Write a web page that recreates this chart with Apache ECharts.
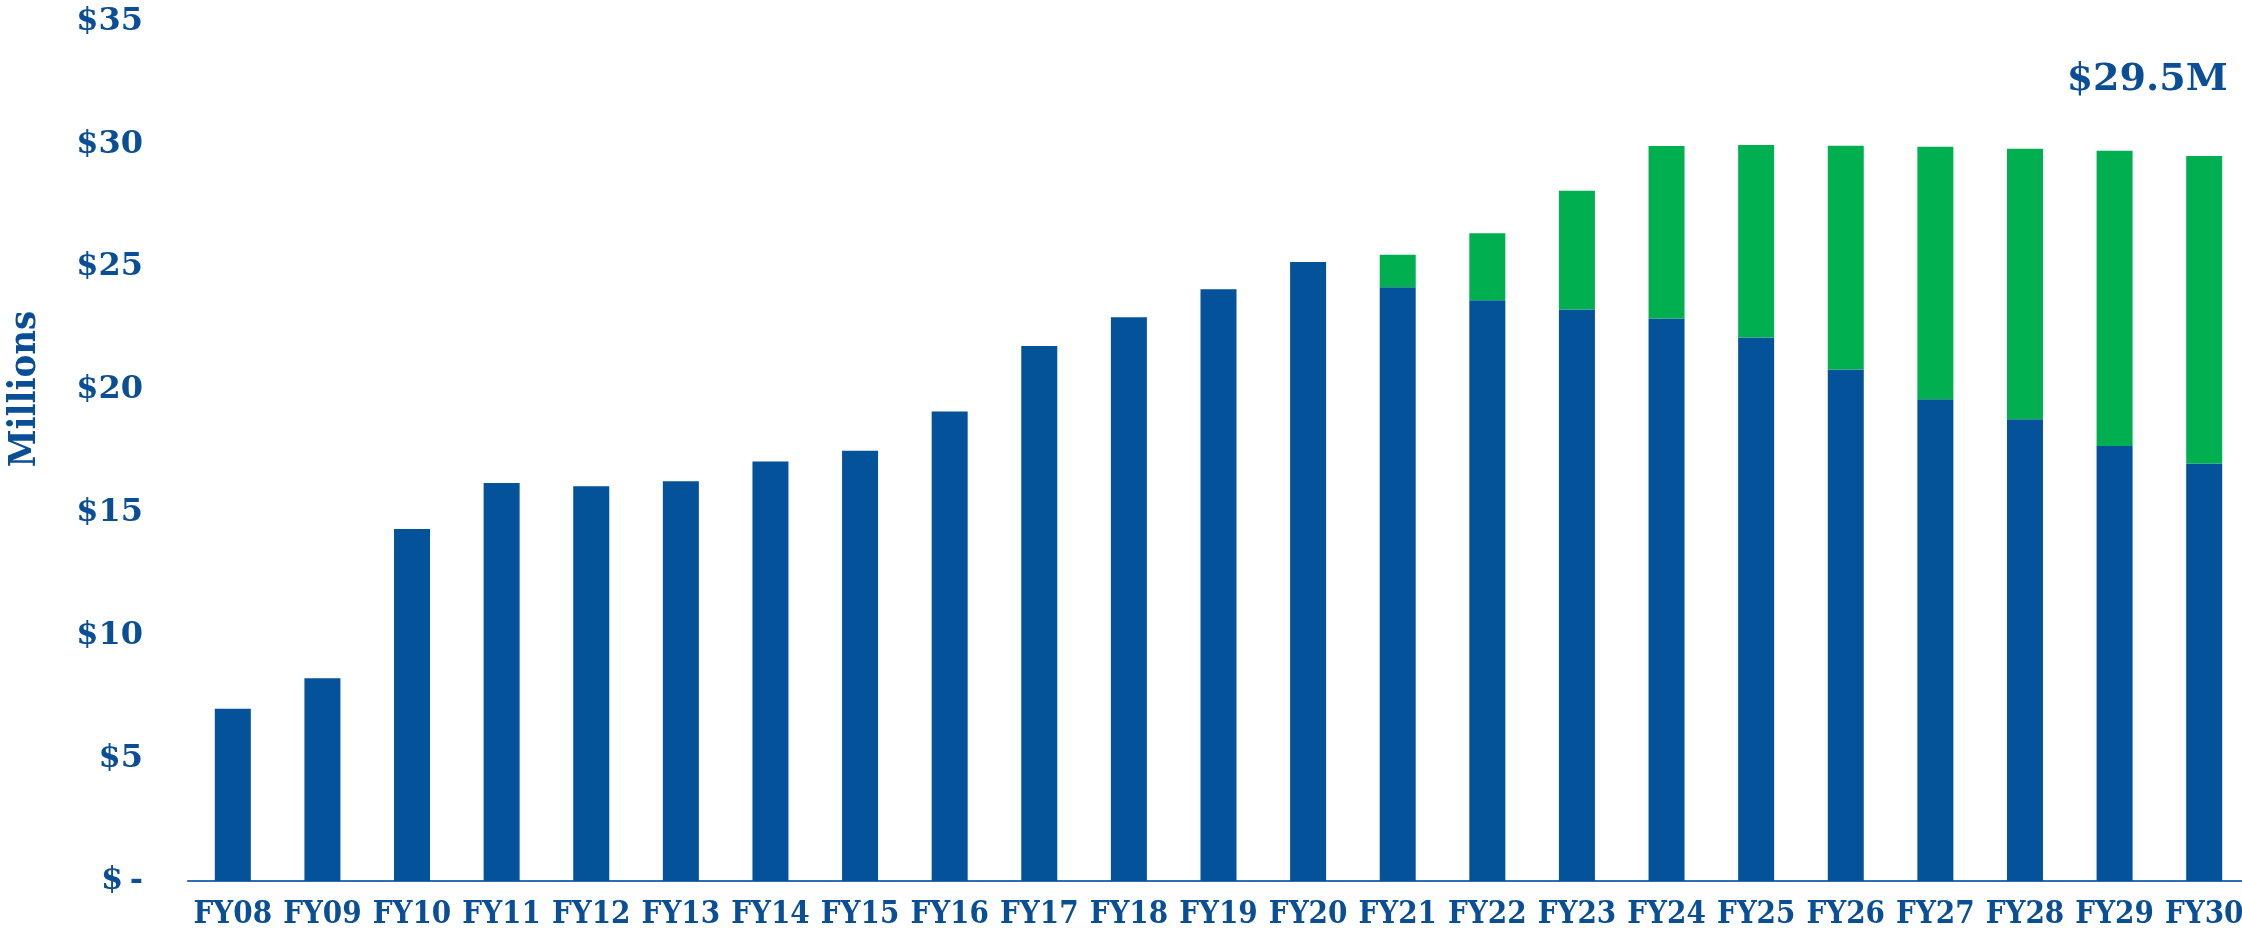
<!DOCTYPE html>
<html>
<head>
<meta charset="utf-8">
<script src="https://cdn.jsdelivr.net/npm/echarts@6/dist/echarts.min.js"></script>
<style>
html,body{margin:0;padding:0;background:#fff;overflow:hidden;width:2242px;height:930px;}
#chart{width:2250px;height:930px;}
</style>
</head>
<body>
<div id="chart"></div>
<script>
const categories = ['FY08','FY09','FY10','FY11','FY12','FY13','FY14','FY15','FY16','FY17','FY18','FY19','FY20','FY21','FY22','FY23','FY24','FY25','FY26','FY27','FY28','FY29','FY30'];
const baseValues = [7.02,8.26,14.34,16.21,16.08,16.28,17.08,17.52,19.12,21.79,22.96,24.10,25.21,24.18,23.65,23.28,22.91,22.13,20.83,19.62,18.81,17.72,17.00];
const addedValues = [0,0,0,0,0,0,0,0,0,0,0,0,0,1.32,2.73,4.83,7.02,7.84,9.11,10.28,11.01,12.02,12.53];
const yTicks = [0,5,10,15,20,25,30,35];
const yTitle = 'Millions';

const BLUE = '#03529A';
const GREEN = '#00AF50';
const TEXT = '#0A4F96';

const lastIdx = categories.length - 1;
const finalTotal = baseValues[lastIdx] + addedValues[lastIdx];

const chart = echarts.init(document.getElementById('chart'), null, {renderer:'canvas'});
chart.setOption({
  animation:false,
  backgroundColor:'#ffffff',
  grid:{left:188, right:1, top:21.6, bottom:49, containLabel:false},
  graphic:[{
    type:'text',
    x:25,
    y:389,
    rotation:Math.PI/2,
    style:{
      text:yTitle,
      fill:TEXT,
      font:'bold 38px "DejaVu Serif Condensed"',
      textAlign:'center',
      textVerticalAlign:'middle'
    }
  }],
  xAxis:{
    type:'category',
    data:categories,
    axisLine:{show:true, lineStyle:{color:'#2F6DB0', width:2}},
    axisTick:{show:false},
    axisLabel:{
      interval:0,
      margin:18,
      color:TEXT,
      fontFamily:'DejaVu Serif Condensed',
      fontWeight:'bold',
      fontSize:31
    }
  },
  yAxis:{
    type:'value',
    min:yTicks[0],
    max:yTicks[yTicks.length-1],
    interval:5,
    axisLine:{show:false},
    axisTick:{show:false},
    splitLine:{show:false},
    axisLabel:{
      margin:45,
      color:TEXT,
      fontFamily:'DejaVu Serif',
      fontWeight:'bold',
      fontSize:32,
      formatter:function(v){ return v === 0 ? '$\u2009-' : '$' + v; }
    }
  },
  series:[
    {
      name:'Base',
      type:'bar',
      stack:'total',
      barWidth:36,
      data:baseValues,
      itemStyle:{color:BLUE}
    },
    {
      name:'Added',
      type:'bar',
      stack:'total',
      barWidth:36,
      data:addedValues.map(function(v,i){
        if(i === lastIdx){
          return {
            value:v,
            label:{
              show:true,
              position:'top',
              offset:[-57,-52],
              formatter:'$' + finalTotal.toFixed(1) + 'M',
              color:TEXT,
              fontFamily:'DejaVu Serif',
              fontWeight:'bold',
              fontSize:38
            }
          };
        }
        return v;
      }),
      itemStyle:{color:GREEN}
    }
  ]
});
</script>
</body>
</html>
